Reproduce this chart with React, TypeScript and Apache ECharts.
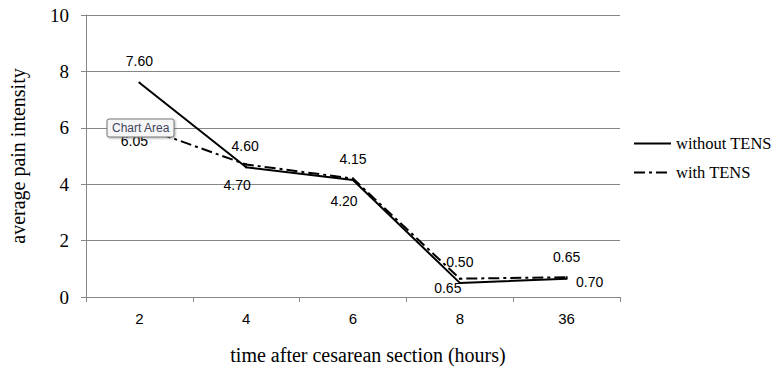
import React, { useEffect, useRef } from "react";
import * as echarts from "echarts";

const categories = ["2", "4", "6", "8", "36"];
const withoutTens = [7.6, 4.6, 4.15, 0.5, 0.65];
const withTens = [6.05, 4.7, 4.2, 0.65, 0.7];
const yMin = 0;
const yMax = 10;
const yInterval = 2;

const seriesNames = ["without TENS", "with TENS"];
const xTitle = "time after cesarean section (hours)";
const yTitle = "average pain intensity";

// label layout (centre offsets from each point)
const withoutLabelOffsets = [
  [0, -22],
  [-1, -21],
  [0, -21],
  [0, -21],
  [0, -22],
];
const withLabelOffsets = [
  [-5, 15],
  [-9, 21],
  [-9, 22],
  [-12, 9],
  [23, 5],
];

const GRID = "#868686";

export default function App() {
  const ref = useRef<HTMLDivElement>(null);

  useEffect(() => {
    if (!ref.current) return;
    const chart = echarts.init(ref.current, undefined, { renderer: "svg" });

    const labelBase = {
      show: true,
      position: "inside",
      color: "#000",
      fontFamily: "Liberation Sans",
      fontSize: 14,
      formatter: (p: any) => Number(p.value).toFixed(2),
    };

    const option: any = {
      animation: false,
      backgroundColor: "#fff",
      grid: { left: 75, right: 162, top: 15, bottom: 87 },
      legend: {
        orient: "vertical",
        left: 628,
        top: 130,
        itemWidth: 37,
        itemHeight: 14,
        itemGap: 12,
        itemStyle: { opacity: 0 },
        textStyle: {
          fontFamily: "Liberation Serif",
          fontSize: 16.5,
          color: "#000",
        },
        data: seriesNames,
      },
      xAxis: {
        type: "category",
        data: categories,
        axisLine: { show: true, lineStyle: { color: GRID, width: 1 } },
        axisTick: { show: true, length: 5, lineStyle: { color: GRID } },
        axisLabel: {
          color: "#000",
          fontFamily: "Liberation Sans",
          fontSize: 15,
          margin: 14,
        },
        name: xTitle,
        nameLocation: "middle",
        nameGap: 48,
        nameTextStyle: {
          fontFamily: "Liberation Serif",
          fontSize: 20,
          color: "#000",
          padding: [0, 0, 0, 30],
        },
      },
      yAxis: {
        type: "value",
        min: yMin,
        max: yMax,
        interval: yInterval,
        axisLine: { show: true, lineStyle: { color: GRID, width: 1 } },
        axisTick: { show: true, length: 5, lineStyle: { color: GRID } },
        splitLine: { show: true, lineStyle: { color: GRID, width: 1 } },
        axisLabel: {
          color: "#000",
          fontFamily: "Liberation Serif",
          fontSize: 19,
          margin: 17,
        },
        name: yTitle,
        nameLocation: "middle",
        nameGap: 58,
        nameTextStyle: {
          fontFamily: "Liberation Serif",
          fontSize: 20,
          color: "#000",
          padding: [0, 0, 0, 0],
        },
      },
      series: [
        {
          name: seriesNames[0],
          type: "line",
          symbol: "circle",
          symbolSize: 2,
          itemStyle: { color: "#000" },
          lineStyle: { color: "#000", width: 2, type: "solid" },
          data: withoutTens.map((v, i) => ({
            value: v,
            label: { ...labelBase, offset: withoutLabelOffsets[i] },
          })),
          label: labelBase,
          z: 3,
        },
        {
          name: seriesNames[1],
          type: "line",
          symbol: "circle",
          symbolSize: 2,
          itemStyle: { color: "#000" },
          lineStyle: { color: "#000", width: 2, type: [11, 4, 3, 4] },
          data: withTens.map((v, i) => ({
            value: v,
            label: { ...labelBase, offset: withLabelOffsets[i] },
          })),
          label: labelBase,
          z: 2,
        },
      ],
      graphic: [
        {
          type: "rect",
          z: 100,
          zlevel: 0,
          shape: { x: 107, y: 119, width: 67, height: 18, r: 2 },
          style: {
            fill: "#f6f6f6",
            stroke: "#767676",
            lineWidth: 1,
            shadowBlur: 2,
            shadowOffsetX: 1,
            shadowOffsetY: 1,
            shadowColor: "rgba(0,0,0,0.3)",
          },
        },
        {
          type: "text",
          z: 101,
          zlevel: 0,
          x: 112,
          y: 128,
          style: {
            text: "Chart Area",
            fill: "#3f4560",
            fontFamily: "Liberation Sans",
            fontSize: 12,
            verticalAlign: "middle",
            align: "left",
          },
        },
      ],
    };

    chart.setOption(option);
    return () => chart.dispose();
  }, []);

  return (
    <div
      ref={ref}
      style={{ position: "absolute", left: 0, top: 0, width: 782, height: 384 }}
    />
  );
}
